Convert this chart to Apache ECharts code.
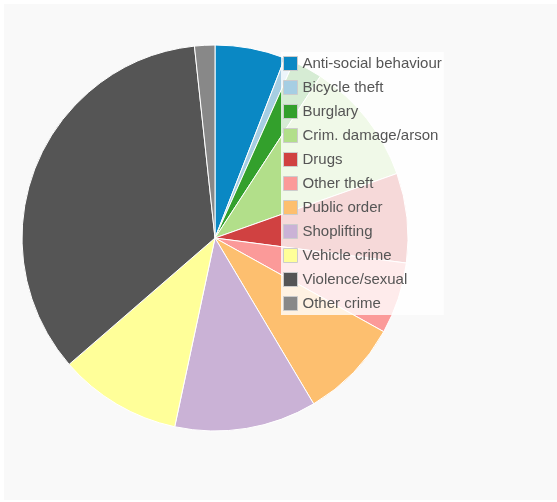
<!DOCTYPE html>
<html>
<head>
<meta charset="utf-8">
<script src="https://cdn.jsdelivr.net/npm/echarts@6/dist/echarts.min.js"></script>
<style>
  html, body { margin: 0; padding: 0; background: #ffffff; }
  #chart { position: absolute; left: 4px; top: 4px; width: 553px; height: 496px; background: #f9f9f9; }
</style>
</head>
<body>
<div id="chart"></div>
<script>
const categories = ["Anti-social behaviour", "Bicycle theft", "Burglary", "Crim. damage/arson", "Drugs", "Other theft", "Public order", "Shoplifting", "Vehicle crime", "Violence/sexual", "Other crime"];
const counts = [59, 8, 25, 104, 75, 60, 84, 119, 103, 347, 17];
const colors = ["#0a88c4", "#a6cee3", "#33a02c", "#b2df8a", "#d04141", "#fb9a99", "#fdbf6f", "#cab2d6", "#ffff99", "#555555", "#888888"];

const chart = echarts.init(document.getElementById('chart'), null, { renderer: 'canvas' });
chart.setOption({
  animation: false,
  color: colors,
  legend: {
    orient: 'vertical',
    left: 277,
    top: 48,
    padding: [4, 2, 4, 2],
    itemWidth: 14,
    itemHeight: 14,
    itemGap: 9,
    icon: 'rect',
    backgroundColor: 'rgba(255,255,255,0.8)',
    itemStyle: { borderColor: '#cccccc', borderWidth: 1 },
    textStyle: { fontFamily: 'Liberation Sans, Arial, sans-serif', fontSize: 15, color: '#555555', padding: [0, 0, 0, 0] },
    data: categories
  },
  series: [{
    type: 'pie',
    center: [211, 234],
    radius: [0, 193],
    startAngle: 90,
    clockwise: true,
    label: { show: false },
    labelLine: { show: false },
    itemStyle: { borderColor: '#ffffff', borderWidth: 1 },
    emphasis: { disabled: true },
    data: categories.map((c, i) => ({ name: c, value: counts[i] }))
  }]
});
</script>
</body>
</html>
